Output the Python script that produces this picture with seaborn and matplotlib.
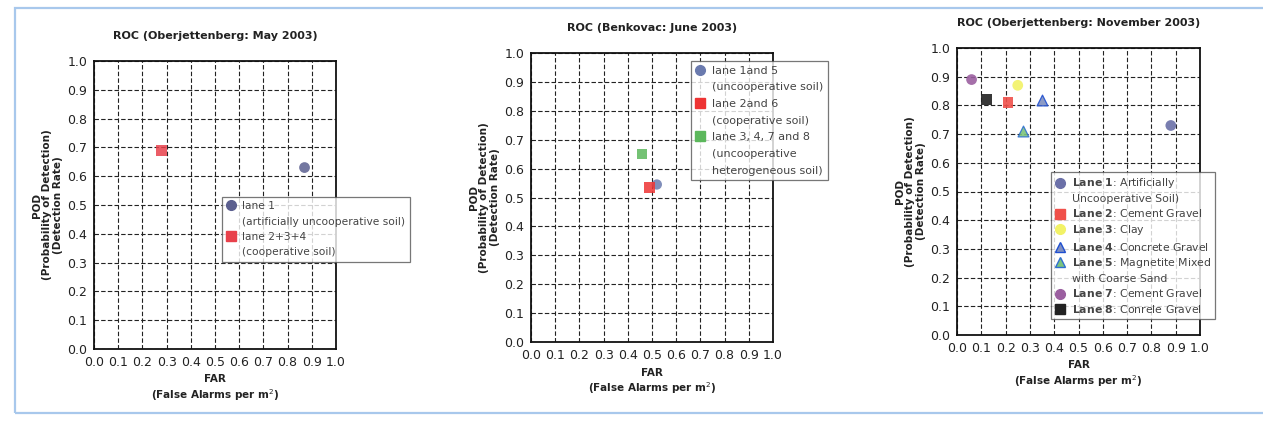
import matplotlib
matplotlib.use("Agg")
import matplotlib.pyplot as plt
import seaborn as sns
import pandas as pd
from matplotlib.lines import Line2D
from matplotlib.patches import Rectangle

# ---------------- data ----------------
p1_labels = ["lane 1", "lane 2+3+4"]
p1_notes = ["(artificially uncooperative soil)", "(cooperative soil)"]
p1_far = [0.87, 0.28]
p1_pod = [0.63, 0.69]

p2_labels = ["lane 1and 5", "lane 2and 6", "lane 3, 4, 7 and 8"]
p2_notes = [["(uncooperative soil)"], ["(cooperative soil)"],
            ["(uncooperative", "heterogeneous soil)"]]
p2_far = [0.52, 0.49, 0.46]
p2_pod = [0.545, 0.535, 0.65]

p3_lanes = ["Lane 1", "Lane 2", "Lane 3", "Lane 4", "Lane 5", "Lane 7", "Lane 8"]
p3_desc = [["Artificially", "Uncooperative Soil)"], ["Cement Gravel"], ["Clay"],
           ["Concrete Gravel"], ["Magnetite Mixed", "with Coarse Sand"],
           ["Cement Gravel"], ["Conrele Gravel"]]
p3_far = [0.88, 0.21, 0.25, 0.35, 0.27, 0.06, 0.12]
p3_pod = [0.73, 0.81, 0.87, 0.82, 0.71, 0.89, 0.82]

titles = ["ROC (Oberjettenberg: May 2003)", "ROC (Benkovac: June 2003)",
          "ROC (Oberjettenberg: November 2003)"]
ticks = [i / 10 for i in range(11)]
tick_labels = [f"{t:.1f}" for t in ticks]

# ---------------- styling ----------------
sns.set_style("white")
plt.rcParams["font.family"] = ["DejaVu Sans"]
plt.rcParams["mathtext.fontset"] = "dejavusans"

fig = plt.figure(figsize=(12.63, 4.21), dpi=100)
fig.patch.set_facecolor("white")
fig.patches.append(Rectangle((15 / 1263, 8 / 421), 1.0, 405 / 421, transform=fig.transFigure,
                             fill=False, edgecolor="#a8c8ec", lw=1.6, zorder=0))

positions = [
    [94 / 1263, 1 - 349 / 421, 242 / 1263, 288 / 421],
    [531 / 1263, 1 - 342 / 421, 242 / 1263, 289 / 421],
    [957 / 1263, 1 - 335 / 421, 243 / 1263, 287 / 421],
]
axes = [fig.add_axes(p) for p in positions]

blank = Line2D([], [], linestyle="none", marker=None)


def style_axis(ax, title):
    ax.set_xlim(0, 1)
    ax.set_ylim(0, 1)
    ax.set_xticks(ticks)
    ax.set_yticks(ticks)
    ax.set_xticklabels(tick_labels, fontsize=9, color="#222222")
    ax.set_yticklabels(tick_labels, fontsize=9, color="#222222")
    ax.tick_params(length=0, pad=5)
    ax.grid(True, color="#222222", linestyle=(0, (4, 2)), linewidth=0.8)
    ax.set_axisbelow(True)
    for s in ax.spines.values():
        s.set_visible(True)
        s.set_color("#111111")
        s.set_linewidth(1.3)
    ax.set_title(title, fontsize=8, fontweight="bold", pad=16, color="#222222")
    ax.set_xlabel("FAR\n(False Alarms per m$^2$)", fontsize=7.5, fontweight="bold",
                  color="#222222", labelpad=4)
    ax.set_ylabel("POD\n(Probability of Detection)\n(Detection Rate)", fontsize=7.5,
                  fontweight="bold", color="#222222", labelpad=3, linespacing=1.05)


def add_legend(ax, handles, labels, anchor, fs, ls):
    leg = ax.legend(handles, labels, loc="upper left", bbox_to_anchor=anchor,
                    fontsize=fs, labelspacing=ls, handlelength=0.9, handletextpad=0.6,
                    borderpad=0.4, frameon=True, fancybox=False, borderaxespad=0)
    leg.get_frame().set_edgecolor("#555555")
    leg.get_frame().set_linewidth(0.9)
    for t in leg.get_texts():
        t.set_color("#444444")
    return leg


# ---------- panel 1 ----------
ax = axes[0]
c1 = ["#5b5f8f", "#e8414b"]
m1 = ["o", "s"]
df1 = pd.DataFrame({"FAR": p1_far, "POD": p1_pod, "lane": p1_labels})
sns.scatterplot(data=df1, x="FAR", y="POD", hue="lane", style="lane",
                palette=dict(zip(p1_labels, c1)), markers=dict(zip(p1_labels, m1)),
                s=60, edgecolor="none", alpha=0.85, ax=ax, legend=False, zorder=3)
handles, labels = [], []
for lab, note, col, mk in zip(p1_labels, p1_notes, c1, m1):
    handles.append(Line2D([], [], linestyle="none", marker=mk, color=col, markersize=7))
    labels.append(lab)
    handles.append(blank)
    labels.append(note)
add_legend(ax, handles, labels, (0.529, 0.528), 7.7, 0.5)
style_axis(ax, titles[0])

# ---------- panel 2 ----------
ax = axes[1]
c2 = ["#6a7aae", "#ee3333", "#5cb85c"]
m2 = ["o", "s", "s"]
df2 = pd.DataFrame({"FAR": p2_far, "POD": p2_pod, "lane": p2_labels})
sns.scatterplot(data=df2, x="FAR", y="POD", hue="lane", style="lane",
                palette=dict(zip(p2_labels, c2)), markers=dict(zip(p2_labels, m2)),
                s=55, edgecolor="none", alpha=0.85, ax=ax, legend=False, zorder=3)
handles, labels = [], []
for lab, notes, col, mk in zip(p2_labels, p2_notes, c2, m2):
    handles.append(Line2D([], [], linestyle="none", marker=mk, color=col, markersize=7))
    labels.append(lab)
    for n in notes:
        handles.append(blank)
        labels.append(n)
add_legend(ax, handles, labels, (0.661, 0.972), 8.0, 0.6)
style_axis(ax, titles[1])

# ---------- panel 3 ----------
ax = axes[2]
c3 = ["#6b70a8", "#f0504a", "#f2f266", "#8090c0", "#7cc47c", "#9b5fa0", "#222222"]
e3 = ["none", "none", "none", "#1f4fd0", "#2f6fd0", "none", "none"]
m3 = ["o", "s", "o", "^", "^", "o", "s"]
df3 = pd.DataFrame({"FAR": p3_far, "POD": p3_pod, "lane": p3_lanes})
for i, lane in enumerate(p3_lanes):
    sub = df3[df3["lane"] == lane]
    sns.scatterplot(data=sub, x="FAR", y="POD", marker=m3[i], color=c3[i],
                    edgecolor=e3[i], linewidth=0.9, s=60, alpha=0.9, ax=ax,
                    legend=False, zorder=3)
handles, labels = [], []
for lane, desc, col, ec, mk in zip(p3_lanes, p3_desc, c3, e3, m3):
    handles.append(Line2D([], [], linestyle="none", marker=mk, color=col,
                          markeredgecolor=(col if ec == "none" else ec), markersize=7))
    lane_tex = lane.replace(" ", r"\ ")
    labels.append(r"$\mathbf{" + lane_tex + "}$: " + desc[0])
    for d in desc[1:]:
        handles.append(blank)
        labels.append(d)
add_legend(ax, handles, labels, (0.387, 0.568), 7.8, 0.33)
style_axis(ax, titles[2])

fig.savefig("out.png", dpi=100, facecolor="white")
